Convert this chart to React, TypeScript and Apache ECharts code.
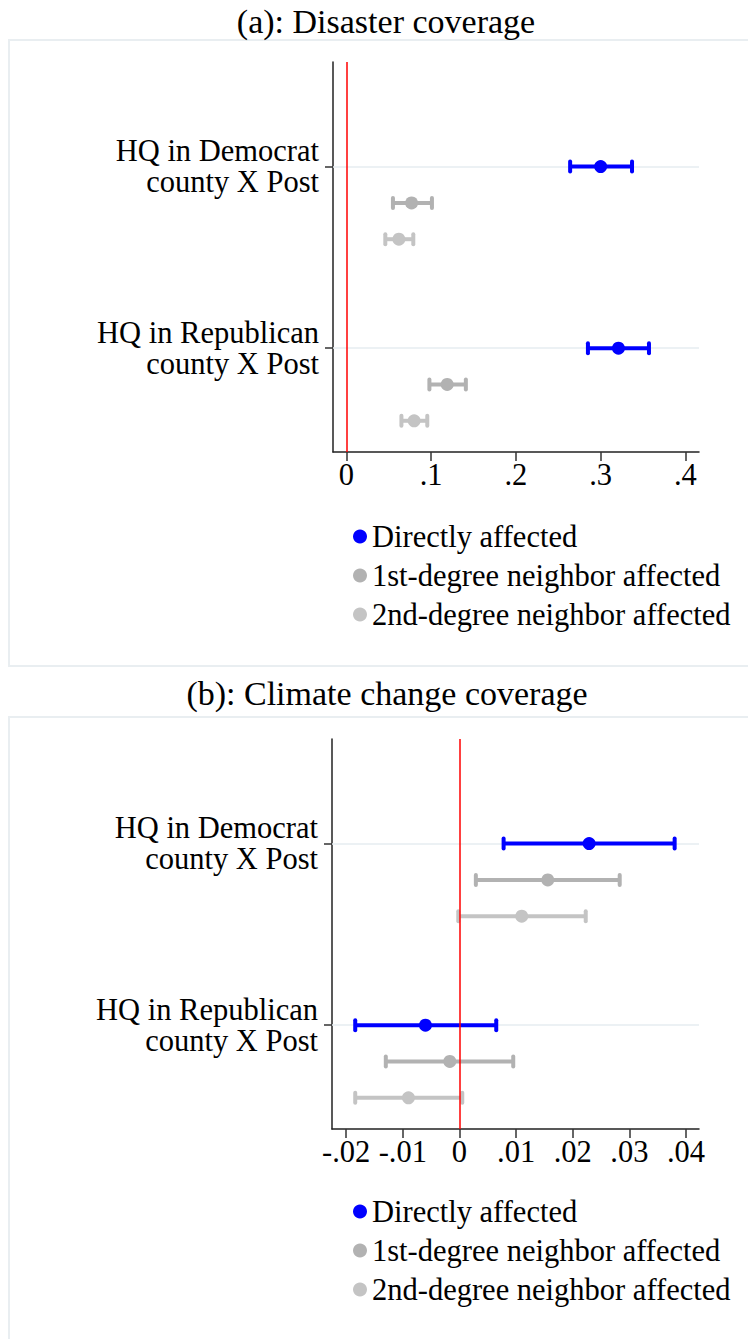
import React, { useEffect, useRef } from "react";
import * as echarts from "echarts";

// Coefficient plot: two regressions, each with two county groups and three treatment rows.
const groupLabels = ["HQ in Democrat\ncounty X Post", "HQ in Republican\ncounty X Post"];
const seriesNames = ["Directly affected", "1st-degree neighbor affected", "2nd-degree neighbor affected"];
const seriesColors = ["#0000ff", "#b2b2b2", "#c4c4c4"];

// (a) Disaster coverage — per series: [Democrat, Republican]
const disasterCoef = [[0.3, 0.321], [0.077, 0.119], [0.062, 0.08]];
const disasterLow = [[0.264, 0.285], [0.055, 0.098], [0.046, 0.065]];
const disasterHigh = [[0.337, 0.357], [0.101, 0.141], [0.079, 0.0955]];
const disasterTicks = [0, 0.1, 0.2, 0.3, 0.4];

// (b) Climate change coverage — per series: [Democrat, Republican]
const climateCoef = [[0.0229, -0.006], [0.0156, -0.0017], [0.011, -0.009]];
const climateLow = [[0.0078, -0.0184], [0.0029, -0.013], [-0.0002, -0.0184]];
const climateHigh = [[0.038, 0.0065], [0.0283, 0.0095], [0.0223, 0.0005]];
const climateTicks = [-0.02, -0.01, 0, 0.01, 0.02, 0.03, 0.04];

const FONT = "Liberation Serif";
const LABEL_SIZE = 30.5;
const GROUP_STEP = 5; // vertical slots between group label rows

const fmtTick = (v: number) => {
  if (v === 0) return "0";
  return String(v).replace(/^(-?)0\./, "$1.");
};

type Panel = {
  coef: number[][];
  low: number[][];
  high: number[][];
  ticks: number[];
  xMin: number;
  xMax: number;
};

const panels: Panel[] = [
  { coef: disasterCoef, low: disasterLow, high: disasterHigh, ticks: disasterTicks, xMin: -0.0157, xMax: 0.416 },
  { coef: climateCoef, low: climateLow, high: climateHigh, ticks: climateTicks, xMin: -0.0225, xMax: 0.0423 },
];

const gridTops = [62, 739];
const gridLefts = [333, 332];

function buildOption() {
  const grid: any[] = [];
  const xAxis: any[] = [];
  const yAxis: any[] = [];
  const series: any[] = [];

  panels.forEach((p, pi) => {
    grid.push({ left: gridLefts[pi], top: gridTops[pi], width: 699 - gridLefts[pi], height: 390 });
    xAxis.push({
      type: "value",
      gridIndex: pi,
      min: p.xMin,
      max: p.xMax,
      axisLine: { show: true, onZero: false, lineStyle: { color: "#222", width: 1.5 } },
      axisTick: { show: true, length: 9, customValues: p.ticks, lineStyle: { color: "#333", width: 1.5 } },
      axisLabel: {
        customValues: p.ticks,
        formatter: (v: number) => fmtTick(v),
        fontFamily: FONT,
        fontSize: LABEL_SIZE,
        color: "#000",
        margin: 7,
      },
      splitLine: { show: false },
    });
    yAxis.push({
      type: "value",
      gridIndex: pi,
      inverse: true,
      min: -2.88,
      max: 7.86,
      axisLine: { show: true, onZero: false, lineStyle: { color: "#222", width: 1.5 } },
      axisTick: { show: true, length: 8, customValues: [0, GROUP_STEP], lineStyle: { color: "#333", width: 1.5 } },
      axisLabel: {
        customValues: [0, GROUP_STEP],
        formatter: (v: number) => groupLabels[Math.round(v / GROUP_STEP)] ?? "",
        fontFamily: FONT,
        fontSize: LABEL_SIZE,
        lineHeight: 31,
        color: "#000",
        align: "right",
        margin: 14,
      },
      splitLine: { show: false },
    });

    // light horizontal guides at the group rows
    series.push({
      type: "line",
      name: "guides" + pi,
      xAxisIndex: pi,
      yAxisIndex: pi,
      data: [],
      z: 1,
      silent: true,
      markLine: {
        z: 1,
        silent: true,
        symbol: "none",
        label: { show: false },
        lineStyle: { color: "#e6edf1", width: 1.5, type: "solid" },
        data: [{ yAxis: 0 }, { yAxis: GROUP_STEP }],
      },
    });

    seriesNames.forEach((name, si) => {
      const color = seriesColors[si];
      const ciData = groupLabels.map((_, g) => [p.low[si][g], p.high[si][g], g * GROUP_STEP + si]);
      series.push({
        type: "custom",
        name: name + " interval " + pi,
        xAxisIndex: pi,
        yAxisIndex: pi,
        z: 3,
        silent: true,
        encode: { x: [0, 1], y: 2 },
        data: ciData,
        renderItem: (_params: any, api: any) => {
          const lo = api.value(0);
          const hi = api.value(1);
          const y = api.value(2);
          const a = api.coord([lo, y]);
          const b = api.coord([hi, y]);
          const h = 5;
          return {
            type: "group",
            children: [
              { type: "line", shape: { x1: a[0], y1: a[1], x2: b[0], y2: b[1] }, style: { stroke: color, lineWidth: 4 } },
              { type: "line", shape: { x1: a[0], y1: a[1] - h, x2: a[0], y2: a[1] + h }, style: { stroke: color, lineWidth: 4, lineCap: "round" } },
              { type: "line", shape: { x1: b[0], y1: b[1] - h, x2: b[0], y2: b[1] + h }, style: { stroke: color, lineWidth: 4, lineCap: "round" } },
            ],
          };
        },
      });
      series.push({
        type: "scatter",
        name,
        xAxisIndex: pi,
        yAxisIndex: pi,
        z: 4,
        symbol: "circle",
        symbolSize: 13,
        itemStyle: { color, opacity: 1 },
        data: groupLabels.map((_, g) => [p.coef[si][g], g * GROUP_STEP + si]),
      });
    });

    // zero reference line
    series.push({
      type: "line",
      name: "zero" + pi,
      xAxisIndex: pi,
      yAxisIndex: pi,
      data: [],
      z: 10,
      silent: true,
      markLine: {
        z: 10,
        silent: true,
        symbol: "none",
        label: { show: false },
        lineStyle: { color: "#ff0000", width: 1.5, type: "solid" },
        data: [{ xAxis: 0 }],
      },
    });
  });

  const legendBase = {
    orient: "vertical",
    left: 348,
    itemWidth: 14,
    itemHeight: 14,
    itemGap: 8,
    selectedMode: false,
    textStyle: { fontFamily: FONT, fontSize: LABEL_SIZE, color: "#000", lineHeight: 30 },
    data: seriesNames.map((name) => ({ name, icon: "circle" })),
  };

  return {
    animation: false,
    backgroundColor: "#ffffff",
    grid,
    xAxis,
    yAxis,
    series,
    legend: [
      { ...legendBase, top: 516 },
      { ...legendBase, top: 1191 },
    ],
    graphic: [
      { type: "rect", shape: { x: 9, y: 40, width: 800, height: 626 }, style: { fill: "none", stroke: "#e9eef1", lineWidth: 2 }, silent: true },
      { type: "rect", shape: { x: 9, y: 717, width: 800, height: 700 }, style: { fill: "none", stroke: "#e9eef1", lineWidth: 2 }, silent: true },
      { type: "text", x: 386, y: 21, style: { text: "(a): Disaster coverage", font: "34px " + FONT, fill: "#000", textAlign: "center", textVerticalAlign: "middle" } },
      { type: "text", x: 387, y: 693, style: { text: "(b): Climate change coverage", font: "34px " + FONT, fill: "#000", textAlign: "center", textVerticalAlign: "middle" } },
    ],
  };
}

export default function App() {
  const ref = useRef<HTMLDivElement>(null);
  useEffect(() => {
    if (!ref.current) return;
    const chart = echarts.init(ref.current, undefined, { renderer: "svg" });
    chart.setOption(buildOption() as any);
    return () => chart.dispose();
  }, []);
  return (
    <div
      ref={ref}
      style={{ position: "fixed", left: 0, top: 0, width: 748, height: 1339, background: "#fff" }}
    />
  );
}
